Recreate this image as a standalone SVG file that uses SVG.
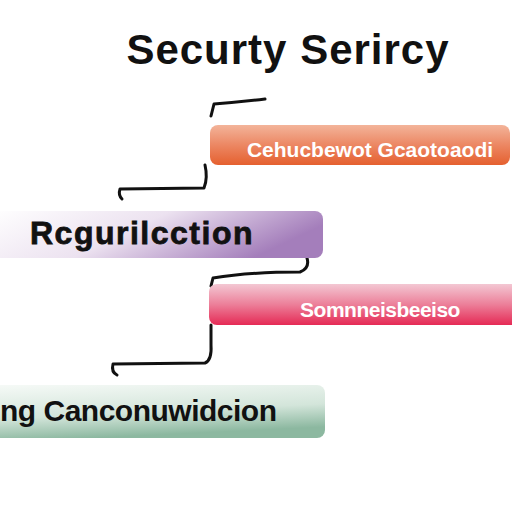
<svg xmlns="http://www.w3.org/2000/svg" width="512" height="512" viewBox="0 0 512 512">
<defs>
<linearGradient id="gOr" x1="0" y1="0" x2="0" y2="1"><stop offset="0" stop-color="#f3b49a"/><stop offset="0.5" stop-color="#ec8763"/><stop offset="1" stop-color="#e5602f"/></linearGradient>
<linearGradient id="gPu" x1="0" y1="0" x2="1" y2="0.3"><stop offset="0" stop-color="#ffffff"/><stop offset="0.5" stop-color="#ece2f0"/><stop offset="1" stop-color="#a47ebb"/></linearGradient>
<linearGradient id="gPk" x1="0" y1="0" x2="0" y2="1"><stop offset="0" stop-color="#f3c7d3"/><stop offset="0.5" stop-color="#ec7f99"/><stop offset="1" stop-color="#e52a55"/></linearGradient>
<linearGradient id="gGr" x1="0" y1="0" x2="0.3" y2="1"><stop offset="0" stop-color="#f6faf7"/><stop offset="0.6" stop-color="#d3e5da"/><stop offset="1" stop-color="#8cb8a0"/></linearGradient>
</defs>
<style>
.lbl{font-family:"Liberation Sans",Arial,sans-serif;font-weight:bold}
.w{fill:#ffffff}
.k{fill:#111111}
.c{fill:none;stroke:#111;stroke-width:3;stroke-linecap:round;stroke-linejoin:round}
</style>
<rect width="512" height="512" fill="#ffffff"/>
<g id="title"><text x="288" y="64" text-anchor="middle" class="lbl k" font-size="42" font-family="'DejaVu Sans',sans-serif" letter-spacing="1">Securty Serircy</text></g>
<g id="connectors">
<path class="c" d="M265,99 Q240,102 214,104 L211,116"/>
<path class="c" d="M205,165 Q208,178 204,188 L120,189 Q118,195 122,199"/>
<path class="c" d="M307,258 Q310,268 300,272 Q250,272 213,278 L211,286"/>
<path class="c" d="M211,325 L211,345 Q212,360 205,363 L113,364 Q111,372 117,375"/>
</g>
<g id="node1"><rect x="210" y="125" width="300" height="40" rx="8" fill="url(#gOr)"/><text x="370" y="157" text-anchor="middle" class="lbl w" font-size="21" letter-spacing="0">Cehucbewot Gcaotoaodi</text></g>
<g id="node2"><rect x="-10" y="211" width="333" height="47" rx="8" fill="url(#gPu)"/><text x="30" y="244" class="lbl k" font-size="32" font-weight="normal" letter-spacing="1.5" stroke="#111" stroke-width="0.8">Rcgurilcction</text></g>
<g id="node3"><rect x="209" y="284" width="310" height="41" rx="8" fill="url(#gPk)"/><text x="380" y="317" text-anchor="middle" class="lbl w" font-size="21" letter-spacing="-0.5">Somnneisbeeiso</text></g>
<g id="node4"><rect x="-10" y="385" width="335" height="53" rx="8" fill="url(#gGr)"/><text x="0" y="421" class="lbl k" font-size="30" letter-spacing="-0.5">ng Canconuwidcion</text></g>
</svg>
